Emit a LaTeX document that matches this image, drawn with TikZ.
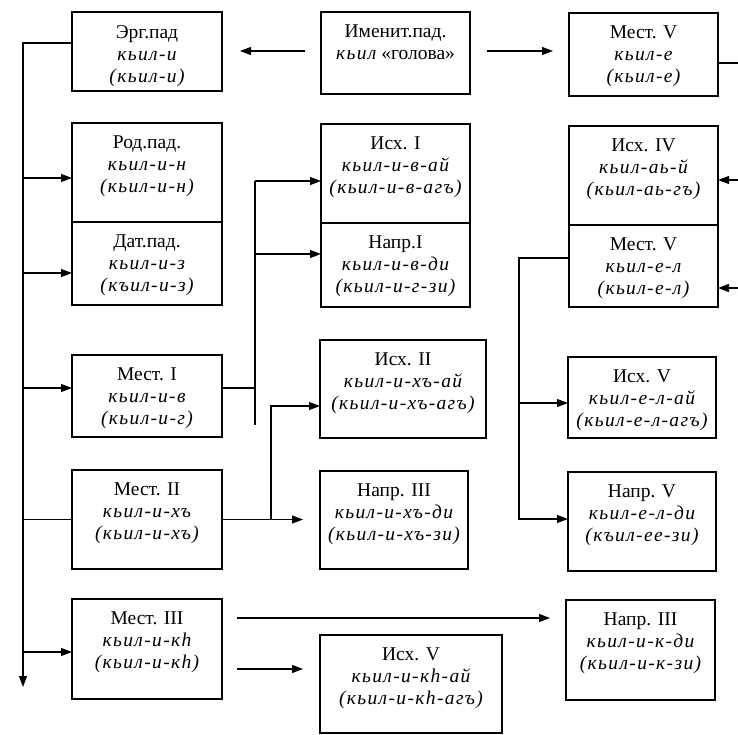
\documentclass[tikz,border=0pt]{standalone}
\usepackage{fontspec}
\setmainfont{Liberation Serif}
\usetikzlibrary{arrows.meta}
\tikzset{
  boxst/.style={draw, line width=1.2pt, rectangle, outer sep=0pt, inner sep=0pt},
  txt/.style={align=center, inner sep=0pt, font=\fontsize{19.5}{22}\selectfont},
  conn/.style={line width=1.1pt},
  arr/.style={conn, -{Triangle[length=11pt,width=8pt]}},
  rarr/.style={conn, {Triangle[length=11pt,width=8pt]}-},
}
\newcommand\iw[1]{{\itshape\addfontfeature{LetterSpace=7}#1}}
\newcommand\mybox[6]{%
  \pgfmathsetmacro\bw{#4-#2}\pgfmathsetmacro\bh{#5-#3}%
  \node[boxst, anchor=north west, minimum width=\bw pt, minimum height=\bh pt] (#1) at (#2,#3) {};
  \node[txt, anchor=north] (#1t) at ([yshift=-13pt]#1.north) {#6};
}
\begin{document}
\begin{tikzpicture}[x=1pt,y=-1pt]
\useasboundingbox (0,0) rectangle (738,735);
% left column
\mybox{erg}{72}{12}{222}{91}{Эрг.пад\\\iw{кьил-и}\\\iw{(кьил-и)}}
\mybox{rod}{72}{123}{222}{222}{Род.пад.\\\iw{кьил-и-н}\\\iw{(кьил-и-н)}}
\mybox{dat}{72}{222}{222}{305}{Дат.пад.\\\iw{кьил-и-з}\\\iw{(къил-и-з)}}
\mybox{mestI}{72}{355}{222}{437}{Мест. I\\\iw{кьил-и-в}\\\iw{(кьил-и-г)}}
\mybox{mestII}{72}{470}{222}{569}{Мест. II\\\iw{кьил-и-хъ}\\\iw{(кьил-и-хъ)}}
\mybox{mestIII}{72}{599}{222}{699}{Мест. III\\\iw{кьил-и-кh}\\\iw{(кьил-и-кh)}}
% middle column
\mybox{imen}{321}{12}{470}{94}{Именит.пад.\\\iw{кьил} «голова»}
\mybox{isxI}{321}{124}{470}{223}{Исх. I\\\iw{кьил-и-в-ай}\\\iw{(кьил-и-в-агъ)}}
\mybox{naprI}{321}{223}{470}{307}{Напр.I\\\iw{кьил-и-в-ди}\\\iw{(кьил-и-г-зи)}}
\mybox{isxII}{320}{340}{486}{438}{Исх. II\\\iw{кьил-и-хъ-ай}\\\iw{(кьил-и-хъ-агъ)}}
\mybox{naprIIIm}{320}{471}{468}{569}{Напр. III\\\iw{кьил-и-хъ-ди}\\\iw{(кьил-и-хъ-зи)}}
\mybox{isxVb}{320}{635}{502}{733}{Исх. V\\\iw{кьил-и-кh-ай}\\\iw{(кьил-и-кh-агъ)}}
% right column
\mybox{mestVa}{569}{13}{718}{96}{Мест. V\\\iw{кьил-е}\\\iw{(кьил-е)}}
\mybox{isxIV}{569}{126}{718}{225}{Исх. IV\\\iw{кьил-аь-й}\\\iw{(кьил-аь-гъ)}}
\mybox{mestVb}{569}{225}{718}{307}{Мест. V\\\iw{кьил-е-л}\\\iw{(кьил-е-л)}}
\mybox{isxVr}{568}{357}{716}{438}{Исх. V\\\iw{кьил-е-л-ай}\\\iw{(кьил-е-л-агъ)}}
\mybox{naprV}{568}{472}{716}{571}{Напр. V\\\iw{кьил-е-л-ди}\\\iw{(къил-ее-зи)}}
\mybox{naprIIIr}{566}{600}{715}{700}{Напр. III\\\iw{кьил-и-к-ди}\\\iw{(кьил-и-к-зи)}}
% trunk on the left
\coordinate (trunkEnd) at (23,687);
\draw[arr] ([yshift=8.5pt]erg.west) -| (trunkEnd);
\draw[rarr] ([yshift=-5.5pt]rod.west) -- ++(-49,0);
\draw[rarr] ([yshift=-9.5pt]dat.west) -- ++(-49,0);
\draw[rarr] ([yshift=8pt]mestI.west) -- ++(-49,0);
\draw[conn] (mestII.west) -- ++(-49,0);
\draw[rarr] ([yshift=-3pt]mestIII.west) -- ++(-49,0);
% nominative
\draw[arr] ([xshift=-16pt,yshift=2pt]imen.west) -- ++(-65,0);
\draw[arr] ([xshift=17pt,yshift=2pt]imen.east) -- ++(66,0);
% Mest I
\draw[conn] ([yshift=8pt]mestI.east) -- ++(33,0);
\draw[conn] ([xshift=-66pt,yshift=-7.5pt]isxI.west) -- ++(0,244);
\draw[rarr] ([yshift=-7.5pt]isxI.west) -- ++(-66,0);
\draw[rarr] ([yshift=11pt]naprI.west) -- ++(-66,0);
% Mest II
\draw[arr] (mestII.east) -- ++(81,0);
\draw[rarr] ([yshift=-17pt]isxII.west) -| ([xshift=49pt]mestII.east);
% Mest III
\draw[arr] ([xshift=15pt,yshift=31pt]mestIII.east) -- ([xshift=-16pt,yshift=32pt]naprIIIr.west);
\draw[arr] ([xshift=15pt,yshift=-20pt]mestIII.east) -- ([xshift=-17pt,yshift=15pt]isxVb.west);
% right column
\draw[conn] ([yshift=-8.5pt]mestVa.east) -- ++(20,0);
\draw[rarr] ([yshift=-4.5pt]isxIV.east) -- ++(20,0);
\draw[rarr] ([yshift=-22pt]mestVb.east) -- ++(20,0);
\draw[arr] ([yshift=8pt]mestVb.west) -| ([xshift=-49pt,yshift=2.5pt]naprV.west) -- ([yshift=2.5pt]naprV.west);
\draw[rarr] ([yshift=-5.5pt]isxVr.west) -- ++(-49,0);
\end{tikzpicture}
\end{document}
